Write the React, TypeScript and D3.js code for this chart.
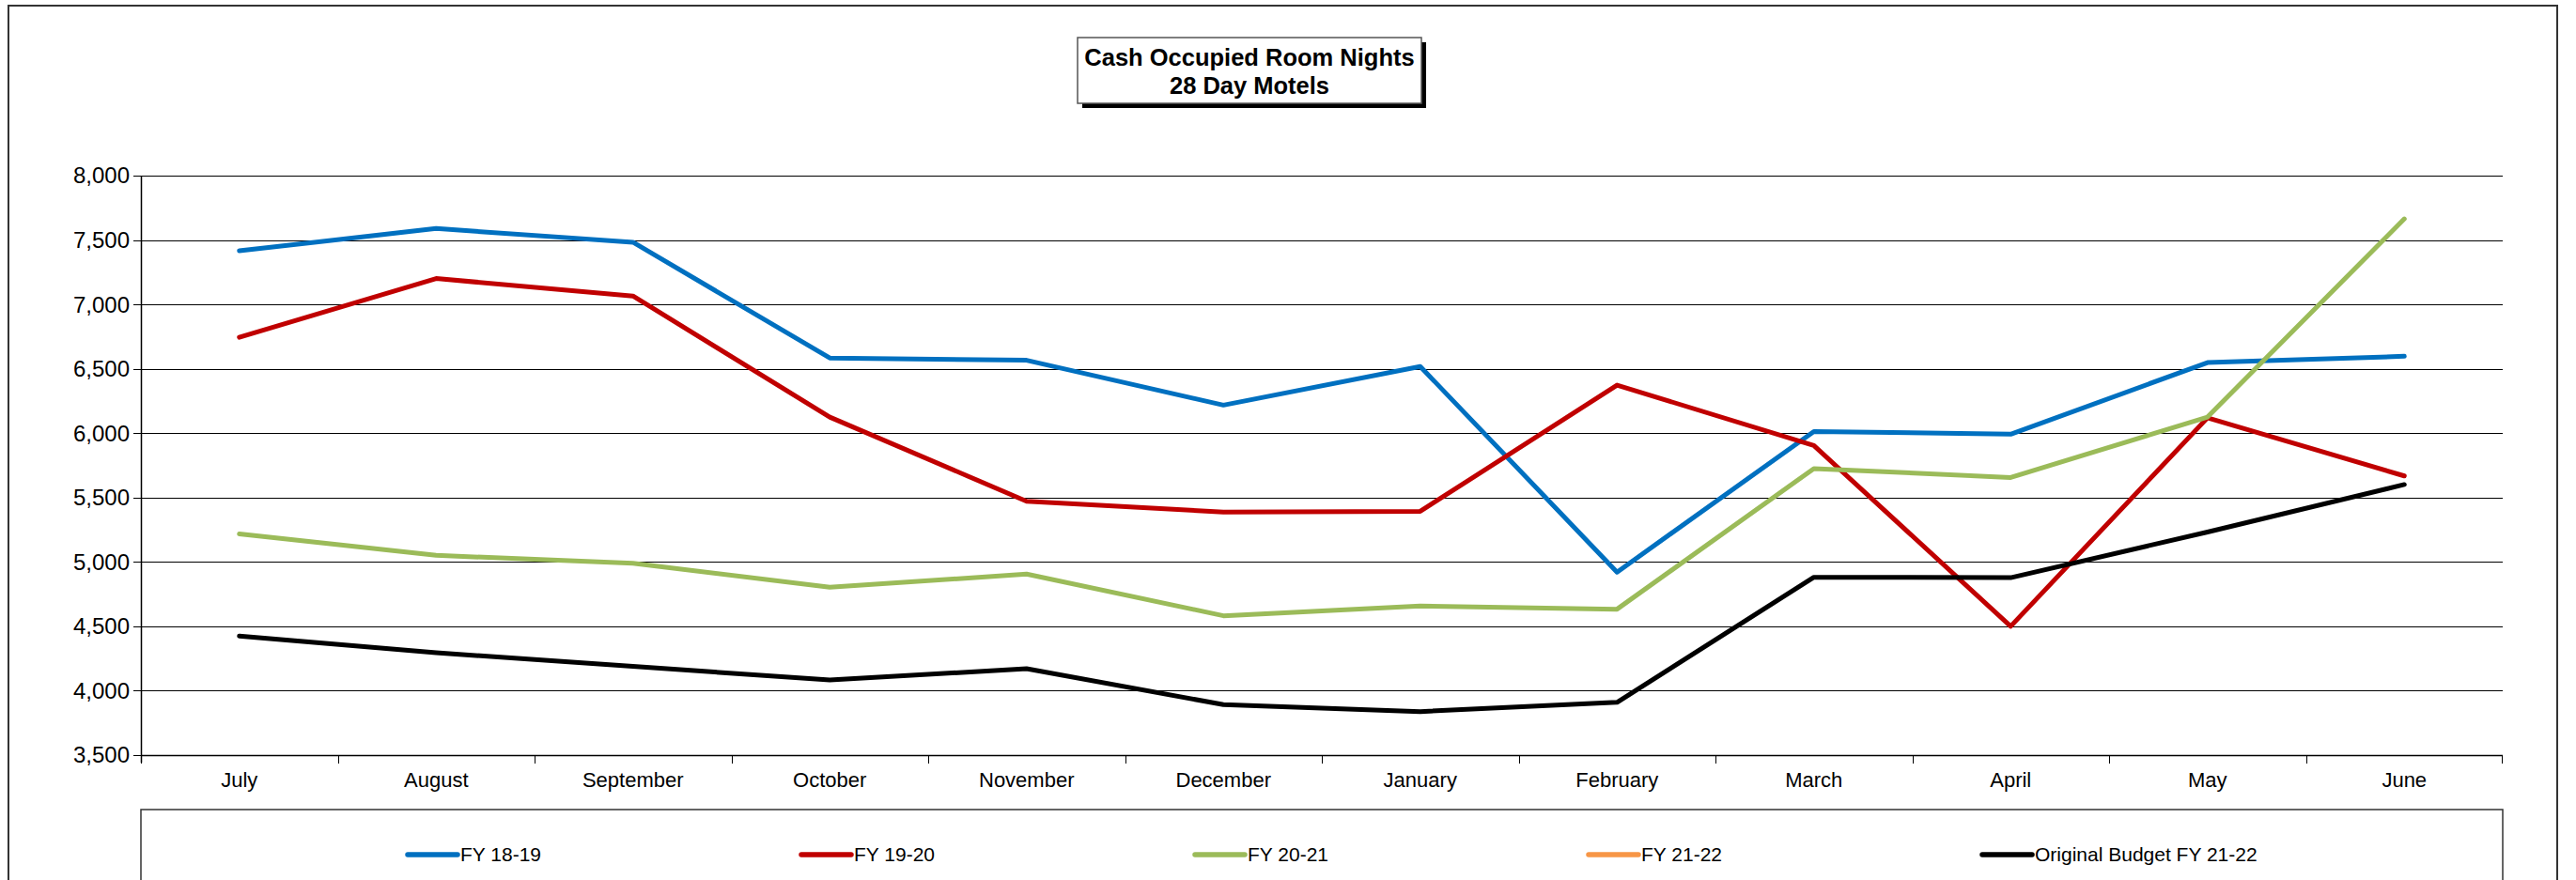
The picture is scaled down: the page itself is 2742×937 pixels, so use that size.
import React from "react";
import * as d3 from "d3";

const months = [
  "July", "August", "September", "October", "November", "December",
  "January", "February", "March", "April", "May", "June",
];

const fy1819 = [7416, 7589, 7483, 6584, 6566, 6218, 6518, 4921, 6013, 5992, 6548, 6597];
const fy1920 = [6745, 7201, 7065, 6125, 5471, 5387, 5393, 6373, 5904, 4500, 6119, 5668];
const fy2021 = [5217, 5051, 4990, 4803, 4906, 4582, 4657, 4633, 5725, 5656, 6125, 7664];
const fy2122: number[] = [];
const budget2122 = [4425, 4295, 4189, 4083, 4171, 3892, 3838, 3910, 4881, 4878, 5232, 5601];

const yTicks = [3500, 4000, 4500, 5000, 5500, 6000, 6500, 7000, 7500, 8000];

const series = [
  { name: "FY 18-19", color: "#0070C0", values: fy1819 },
  { name: "FY 19-20", color: "#C00000", values: fy1920 },
  { name: "FY 20-21", color: "#9BBB59", values: fy2021 },
  { name: "FY 21-22", color: "#F79646", values: fy2122 },
  { name: "Original Budget FY 21-22", color: "#000000", values: budget2122 },
];

const W = 2742;
const H = 937;
const FONT = "'Liberation Sans', Arial, sans-serif";

export default function App() {
  const left = 150;
  const right = 2664;
  const top = 187;
  const bottom = 804;

  const x = d3.scaleBand<string>().domain(months).range([left, right]).padding(0);
  const y = d3.scaleLinear().domain([3500, 8000]).range([bottom, top]);
  const fmt = d3.format(",");

  const line = d3
    .line<number>()
    .x((_, i) => (x(months[i]) as number) + x.bandwidth() / 2)
    .y((d) => y(d));

  // legend layout
  const legTop = 862;
  const legY = 910;
  const legStart = 434;
  const legStep = 419;

  return (
    <svg
      width={W}
      height={H}
      style={{ position: "absolute", left: 0, top: 0, background: "#fff" }}
      fontFamily={FONT}
    >
      <rect x={0} y={0} width={W} height={H} fill="#fff" />
      {/* outer chart frame */}
      <rect x={9} y={6} width={2713} height={H + 20} fill="none" stroke="#333" strokeWidth={2} />

      {/* title box with shadow */}
      <rect x={1152} y={45} width={366} height={70} fill="#000" />
      <rect x={1147} y={40} width={366} height={70} fill="#fff" stroke="#555" strokeWidth={1.5} />
      <text x={1330} y={70} textAnchor="middle" fontSize={25.5} fontWeight="bold">
        Cash Occupied Room Nights
      </text>
      <text x={1330} y={100} textAnchor="middle" fontSize={25.5} fontWeight="bold">
        28 Day Motels
      </text>

      {/* gridlines */}
      {yTicks.map((t) => (
        <line
          key={t}
          x1={left}
          x2={right}
          y1={Math.round(y(t)) + 0.5}
          y2={Math.round(y(t)) + 0.5}
          stroke="#000"
          strokeWidth={1.2}
        />
      ))}

      {/* y axis */}
      <line x1={left + 0.5} x2={left + 0.5} y1={top} y2={bottom + 8} stroke="#000" strokeWidth={1.5} />
      {yTicks.map((t) => (
        <g key={"yt" + t}>
          <line x1={left - 8} x2={left} y1={Math.round(y(t)) + 0.5} y2={Math.round(y(t)) + 0.5} stroke="#000" />
          <text x={left - 12} y={y(t)} dy="0.35em" textAnchor="end" fontSize={24} fill="#000">
            {fmt(t)}
          </text>
        </g>
      ))}

      {/* x axis */}
      <line x1={left} x2={right} y1={bottom + 0.5} y2={bottom + 0.5} stroke="#000" strokeWidth={1.5} />
      {months.map((m) => (
        <line
          key={"xt" + m}
          x1={Math.round(x(m) as number) + 0.5}
          x2={Math.round(x(m) as number) + 0.5}
          y1={bottom}
          y2={bottom + 9}
          stroke="#000"
        />
      ))}
      <line x1={right - 0.5} x2={right - 0.5} y1={bottom} y2={bottom + 9} stroke="#000" />
      {months.map((m) => (
        <text
          key={"xl" + m}
          x={(x(m) as number) + x.bandwidth() / 2}
          y={830}
          dy="0.35em"
          textAnchor="middle"
          fontSize={22}
          fill="#000"
        >
          {m}
        </text>
      ))}

      {/* series lines */}
      {series.map((s) =>
        s.values.length ? (
          <path
            key={s.name}
            d={line(s.values) || ""}
            fill="none"
            stroke={s.color}
            strokeWidth={5}
            strokeLinejoin="round"
            strokeLinecap="round"
          />
        ) : null
      )}

      {/* legend */}
      <rect x={left} y={legTop} width={right - left} height={H + 20 - legTop} fill="#fff" stroke="#333" strokeWidth={1.5} />
      {series.map((s, i) => {
        const lx = legStart + i * legStep;
        return (
          <g key={"lg" + s.name}>
            <line x1={lx} x2={lx + 53} y1={legY} y2={legY} stroke={s.color} strokeWidth={5.5} strokeLinecap="round" />
            <text x={lx + 56} y={legY} dy="0.35em" fontSize={21} fill="#000">
              {s.name}
            </text>
          </g>
        );
      })}
    </svg>
  );
}
